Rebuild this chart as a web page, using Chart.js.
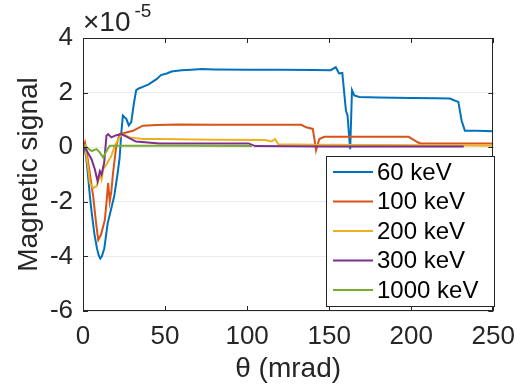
<!DOCTYPE html>
<html>
<head>
<meta charset="utf-8">
<script src="https://cdn.jsdelivr.net/npm/chart.js@4/dist/chart.umd.min.js"></script>
<style>
  html, body { margin: 0; padding: 0; background: #fff; }
  #wrap { width: 525px; height: 391px; }
</style>
</head>
<body>
<div id="wrap"><canvas id="myChart" width="525" height="391"></canvas></div>
<script>
// values in units of 1e-5, angle in mrad
const labels = ['60 keV', '100 keV', '200 keV', '300 keV', '1000 keV'];
const colors = ['#0072BD', '#D95319', '#EDB120', '#7E2F8E', '#77AC30'];

const x60 = [0, 1, 2, 3, 4.2, 5.5, 7, 8.5, 9.5, 10.5, 11.5, 13, 15, 17, 19, 21, 22.3, 23.3, 24.3, 25.3, 26.4, 27.9, 29.4, 31, 32.4, 34, 36.4, 40, 42.5, 45, 47.5, 51, 54, 60, 66, 72.5, 80, 100, 120, 140, 151, 154, 156, 158, 160.2, 161.2, 162, 162.8, 163.9, 165.3, 168.3, 180, 200, 215, 223.6, 226, 228.7, 230.7, 232.7, 240, 250];
const y60 = [0, -0.05, -0.4, -1.0, -1.8, -2.5, -3.2, -3.7, -3.95, -4.08, -4.0, -3.7, -2.8, -2.3, -1.8, -1.0, -0.4, 0.5, 1.16, 1.1, 1.04, 0.8, 0.92, 1.6, 2.09, 2.15, 2.21, 2.3, 2.4, 2.5, 2.64, 2.7, 2.77, 2.82, 2.84, 2.86, 2.85, 2.84, 2.84, 2.83, 2.82, 2.93, 2.70, 2.72, 1.34, 1.16, 0.5, -0.07, 2.09, 1.90, 1.84, 1.82, 1.80, 1.79, 1.78, 1.72, 1.66, 0.97, 0.60, 0.60, 0.58];

const x100 = [0, 1.2, 2.5, 4, 6.2, 8, 9.3, 11, 13.3, 14.5, 15.3, 16.3, 17.3, 18.3, 20.3, 22.3, 26.4, 30.4, 36.4, 45, 58.6, 80, 100, 120, 133, 136, 140, 141, 142, 143, 144, 147, 160, 180, 198.4, 202.5, 204, 205.5, 220, 250];
const y100 = [0, 0.18, -0.3, -0.9, -1.8, -2.8, -3.4, -3.2, -2.67, -1.9, -1.31, -1.99, -1.6, -0.94, 0.05, 0.48, 0.54, 0.6, 0.79, 0.81, 0.83, 0.82, 0.82, 0.82, 0.82, 0.73, 0.67, 0.3, -0.11, 0.1, 0.30, 0.38, 0.38, 0.38, 0.38, 0.23, 0.18, 0.14, 0.14, 0.14];

const x200 = [0, 1.2, 3, 4.2, 6.2, 8.3, 10.3, 11.3, 12.3, 14.3, 17.3, 19.3, 22.3, 24.3, 28.4, 36.4, 46.5, 80, 111, 115, 117, 119, 140, 180, 232, 250];
const y200 = [0, 0.05, -0.7, -1.31, -1.49, -1.43, -1.0, -1.19, -0.81, -0.63, -0.32, 0.05, 0.36, 0.48, 0.36, 0.30, 0.30, 0.27, 0.26, 0.21, 0.30, 0.11, 0.09, 0.08, 0.06, 0.05];

const x300 = [0, 2, 5.2, 7.2, 8.9, 10.3, 11.3, 12.9, 14.3, 15.3, 17.3, 20.3, 23.4, 27.4, 31.4, 32.4, 46.5, 80, 100.8, 105, 150, 232];
const y300 = [0, -0.1, -0.44, -0.81, -1.25, -0.88, -1.0, -0.57, 0.42, 0.48, 0.36, 0.44, 0.48, 0.36, 0.23, 0.21, 0.14, 0.14, 0.14, 0.04, 0.03, 0.03];

const x1000 = [0, 2, 5.2, 8.3, 10.3, 12.3, 14.3, 16.3, 30, 60, 103];
const y1000 = [0.05, 0.0, -0.14, -0.07, -0.2, -0.38, -0.14, 0.05, 0.05, 0.05, 0.04];

const xTicks = [0, 50, 100, 150, 200, 250];
const yTicks = [-6, -4, -2, 0, 2, 4];

const xs = [x60, x100, x200, x300, x1000];
const ys = [y60, y100, y200, y300, y1000];

function toPoints(xv, yv) {
    return xv.map((v, i) => ({ x: v, y: yv[i] }));
}

const FONT = "'Liberation Sans', Arial, Helvetica, sans-serif";
const INK = '#262626';

// box, inward ticks, exponent and legend
const decor = {
    id: 'decor',
    afterDatasetsDraw(chart) {
        const ctx = chart.ctx;
        const a = chart.chartArea;
        const sx = chart.scales.x, sy = chart.scales.y;
        ctx.save();
        ctx.strokeStyle = INK;
        ctx.lineWidth = 1;
        ctx.beginPath();
        xTicks.forEach(t => {
            const px = Math.round(sx.getPixelForValue(t)) + 0.5;
            ctx.moveTo(px, a.bottom); ctx.lineTo(px, a.bottom - 5);
            ctx.moveTo(px, a.top); ctx.lineTo(px, a.top + 5);
        });
        yTicks.forEach(t => {
            const py = Math.round(sy.getPixelForValue(t)) + 0.5;
            ctx.moveTo(a.left, py); ctx.lineTo(a.left + 5, py);
            ctx.moveTo(a.right, py); ctx.lineTo(a.right - 5, py);
        });
        ctx.stroke();
        ctx.strokeRect(Math.round(a.left) + 0.5, Math.round(a.top) + 0.5,
            Math.round(a.width) - 1, Math.round(a.height) - 1);

        // x10^-5
        ctx.fillStyle = INK;
        ctx.textBaseline = 'alphabetic';
        ctx.textAlign = 'left';
        ctx.font = '28px ' + FONT;
        ctx.fillText('\u00d710', a.left, 31);
        const w = ctx.measureText('\u00d710').width;
        ctx.font = '19px ' + FONT;
        ctx.fillText('-5', a.left + w + 4, 17);

        // legend
        const lx = 326, ly = 156, lw = 168, lh = 150;
        ctx.fillStyle = '#fff';
        ctx.fillRect(lx, ly, lw, lh);
        ctx.strokeStyle = INK;
        ctx.lineWidth = 1;
        ctx.strokeRect(lx + 0.5, ly + 0.5, lw, lh);
        ctx.font = '24px ' + FONT;
        ctx.textBaseline = 'middle';
        labels.forEach((lab, i) => {
            const cy = 172 + i * 29.5;
            ctx.strokeStyle = colors[i];
            ctx.lineWidth = 2;
            ctx.beginPath();
            ctx.moveTo(333, cy); ctx.lineTo(373, cy);
            ctx.stroke();
            ctx.fillStyle = '#000';
            ctx.fillText(lab, 377, cy + 1);
        });
        ctx.restore();
    }
};

const ctx = document.getElementById('myChart').getContext('2d');
const myChart = new Chart(ctx, {
    type: 'line',
    data: {
        datasets: labels.map((lab, i) => ({
            label: lab,
            data: toPoints(xs[i], ys[i]),
            borderColor: colors[i],
            backgroundColor: colors[i],
            borderWidth: 2,
            pointRadius: 0,
            tension: 0,
            fill: false,
            order: labels.length - i
        }))
    },
    options: {
        responsive: false,
        animation: false,
        events: [],
        layout: { padding: { top: 38, right: 28, left: 0, bottom: 0 } },
        plugins: { legend: { display: false }, tooltip: { enabled: false } },
        scales: {
            x: {
                type: 'linear',
                min: 0,
                max: 250,
                afterFit: (s) => { s.height = 80; },
                afterBuildTicks: (s) => { s.ticks = xTicks.map(v => ({ value: v })); },
                ticks: { color: INK, padding: 10, maxRotation: 0, font: { family: FONT, size: 26 } },
                grid: { display: false, drawTicks: false },
                border: { display: false },
                title: {
                    display: true,
                    text: '\u03b8 (mrad)',
                    color: INK,
                    font: { family: FONT, size: 28, lineHeight: 1 },
                    padding: { top: 0, bottom: 8 }
                }
            },
            y: {
                type: 'linear',
                min: -6,
                max: 4,
                afterFit: (s) => { s.width = 83; },
                afterBuildTicks: (s) => { s.ticks = yTicks.map(v => ({ value: v })); },
                ticks: { color: INK, padding: 10, font: { family: FONT, size: 26 } },
                grid: { color: '#ebebeb', drawTicks: false, lineWidth: 1 },
                border: { display: false },
                title: {
                    display: true,
                    text: 'Magnetic signal',
                    color: INK,
                    font: { family: FONT, size: 28, lineHeight: 1 },
                    padding: { top: 15, bottom: 0 }
                }
            }
        }
    },
    plugins: [decor]
});
</script>
</body>
</html>
